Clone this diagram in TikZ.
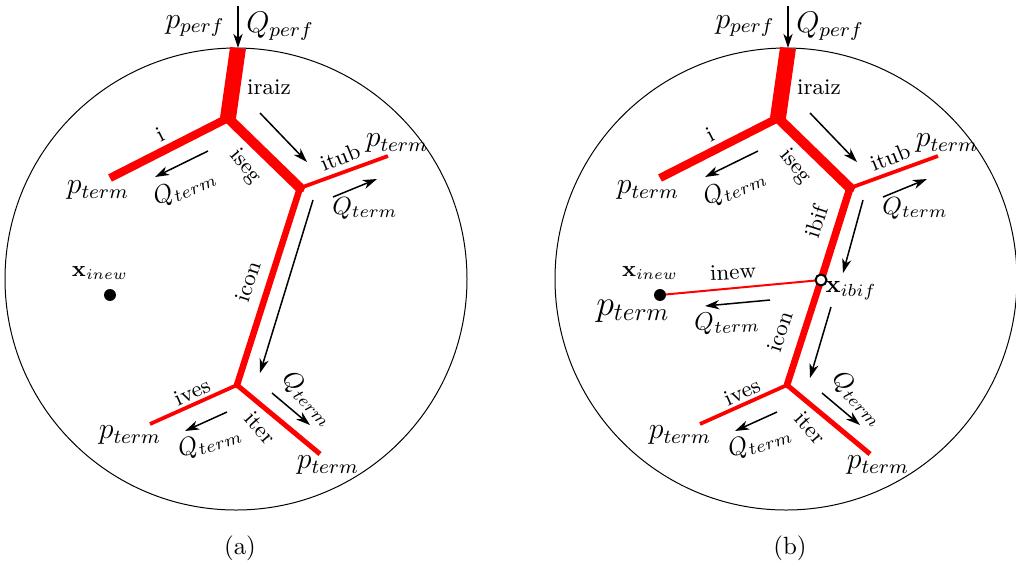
\documentclass[tikz,border=0pt]{standalone}
\usepackage{tikz}
\usetikzlibrary{arrows.meta}
\tikzset{
  flujo/.style={-{Stealth[length=2mm, width=1.3mm, inset=0.6mm]}, semithick},
  rama/.style={red, line cap=butt},
  etiq/.style={font=\small},
}

\begin{document}
\begin{tikzpicture}[x=0.0141cm, y=-0.0141cm]
\useasboundingbox (0,0) rectangle (1016,564);

% (a) arbol inicial
\begin{scope}
\draw (236,279) circle[radius=231];
\coordinate (a-in) at (238,6);
\coordinate (a-top) at (238,48);
\coordinate (a-j1) at (228,118);
\coordinate (a-ti) at (110,178);
\coordinate (a-j2) at (300,188);
\coordinate (a-tub) at (388,156);
\coordinate (a-j3) at (237,385);
\coordinate (a-ves) at (150,424);
\coordinate (a-ter) at (320,454);
\coordinate (a-new) at (110,295);

\draw[rama, line width=6.4pt] (a-top) -- (a-j1);
\draw[rama, line width=3.3pt] (a-j1) -- (a-ti);
\draw[rama, line width=4pt] (a-j1) -- (a-j2);
\draw[rama, line width=1.5pt] (a-j2) -- (a-tub);
\draw[rama, line width=2.6pt] (a-j2) -- (a-j3);
\draw[rama, line width=1.5pt] (a-j3) -- (a-ves);
\draw[rama, line width=2pt] (a-j3) -- (a-ter);
\fill[red] (a-j1) circle (2pt);
\fill[red] (a-j2) circle (2pt);
\fill[red] (a-j3) circle (1.3pt);
\fill (a-new) circle (2.4pt);

\draw[flujo] (a-in) -- (a-top);
\node[font=\large] (a-pperf) at (195,26) {$p_{perf}$};
\node[font=\large] (a-qperf) at (280,26) {$Q_{perf}$};

\draw[flujo] (260,113) -- (307,162);
\draw[flujo] (208,151) -- (155,177);
\draw[flujo] (333,197) -- (377,179);
\draw[flujo] (313,200) -- (260,373);
\draw[flujo] (227,412) -- (185,431);
\draw[flujo] (272,393) -- (310,425);

\node[etiq] (a-iraiz) at (269,87) {iraiz};
\node[etiq, rotate=27] (a-i) at (160,134) {i};
\node[etiq, rotate=-50] (a-iseg) at (245,167) {iseg};
\node[etiq, rotate=22] (a-itub) at (340,157) {itub};
\node[etiq, rotate=72] (a-icon) at (248,282) {icon};
\node[etiq, rotate=24] (a-ives) at (192,392) {ives};
\node[etiq, rotate=-48] (a-iter) at (260,428) {iter};

\node[font=\large] (a-p1) at (98,190) {$p_{term}$};
\node[font=\large] (a-p2) at (397,143) {$p_{term}$};
\node[font=\large] (a-p3) at (130,435) {$p_{term}$};
\node[font=\large] (a-p4) at (328,465) {$p_{term}$};
\node[rotate=22] (a-q1) at (185,188) {$Q_{term}$};
\node (a-q2) at (365,208) {$Q_{term}$};
\node[rotate=18] (a-q3) at (210,442) {$Q_{term}$};
\node[rotate=-47] (a-q4) at (308,399) {$Q_{term}$};
\node[font=\small] (a-xnew) at (100,273) {$\mathbf{x}_{inew}$};

\node (a-cap) at (240,548) {(a)};
\end{scope}

% (b) arbol con el nuevo segmento
\begin{scope}[shift={(550,0)}]
\draw (236,279) circle[radius=231];
\coordinate (b-in) at (238,6);
\coordinate (b-top) at (238,48);
\coordinate (b-j1) at (228,118);
\coordinate (b-ti) at (110,178);
\coordinate (b-j2) at (300,188);
\coordinate (b-tub) at (388,156);
\coordinate (b-bif) at (271,280);
\coordinate (b-j3) at (237,385);
\coordinate (b-ves) at (150,424);
\coordinate (b-ter) at (320,454);
\coordinate (b-new) at (110,295);

\draw[rama, line width=6.4pt] (b-top) -- (b-j1);
\draw[rama, line width=3.3pt] (b-j1) -- (b-ti);
\draw[rama, line width=4pt] (b-j1) -- (b-j2);
\draw[rama, line width=1.5pt] (b-j2) -- (b-tub);
\draw[rama, line width=3pt] (b-j2) -- (b-bif);
\draw[rama, line width=2.7pt] (b-bif) -- (b-j3);
\draw[rama, line width=0.8pt] (b-bif) -- (b-new);
\draw[rama, line width=1.5pt] (b-j3) -- (b-ves);
\draw[rama, line width=2pt] (b-j3) -- (b-ter);
\fill[red] (b-j1) circle (2pt);
\fill[red] (b-j2) circle (2pt);
\fill[red] (b-j3) circle (1.3pt);
\fill (b-new) circle (2.4pt);
\filldraw[fill=white, draw=black, thick] (b-bif) circle (2.2pt);

\draw[flujo] (b-in) -- (b-top);
\node[font=\large] (b-pperf) at (195,26) {$p_{perf}$};
\node[font=\large] (b-qperf) at (280,26) {$Q_{perf}$};

\draw[flujo] (260,113) -- (307,162);
\draw[flujo] (208,151) -- (155,177);
\draw[flujo] (333,197) -- (377,179);
\draw[flujo] (313,200) -- (293,273);
\draw[flujo] (281,307) -- (260,378);
\draw[flujo] (220,300) -- (155,306);
\draw[flujo] (227,412) -- (185,431);
\draw[flujo] (272,393) -- (310,425);

\node[etiq] (b-iraiz) at (269,87) {iraiz};
\node[etiq, rotate=27] (b-i) at (160,134) {i};
\node[etiq, rotate=-50] (b-iseg) at (245,167) {iseg};
\node[etiq, rotate=22] (b-itub) at (340,157) {itub};
\node[etiq, rotate=72] (b-ibif) at (266,222) {ibif};
\node[etiq, rotate=72] (b-icon) at (230,332) {icon};
\node[etiq, rotate=3] (b-inew) at (183,272) {inew};
\node[etiq, rotate=24] (b-ives) at (192,392) {ives};
\node[etiq, rotate=-48] (b-iter) at (260,428) {iter};

\node[font=\large] (b-p1) at (98,190) {$p_{term}$};
\node[font=\large] (b-p2) at (397,143) {$p_{term}$};
\node[font=\large] (b-p3) at (130,435) {$p_{term}$};
\node[font=\large] (b-p4) at (328,465) {$p_{term}$};
\node[font=\Large] (b-p5) at (83,311) {$p_{term}$};
\node[rotate=22] (b-q1) at (185,188) {$Q_{term}$};
\node (b-q2) at (365,208) {$Q_{term}$};
\node[rotate=3] (b-q5) at (177,323) {$Q_{term}$};
\node[rotate=18] (b-q3) at (210,442) {$Q_{term}$};
\node[rotate=-47] (b-q4) at (308,399) {$Q_{term}$};
\node[font=\small] (b-xnew) at (100,273) {$\mathbf{x}_{inew}$};
\node (b-xbif) at (301,291) {$\mathbf{x}_{ibif}$};

\node (b-cap) at (240,548) {(b)};
\end{scope}
\end{tikzpicture}
\end{document}
